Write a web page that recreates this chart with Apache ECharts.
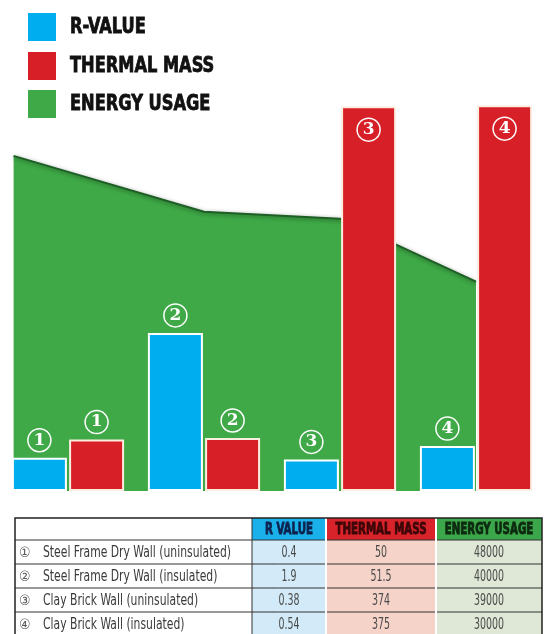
<!DOCTYPE html>
<html>
<head>
<meta charset="utf-8">
<script src="https://cdn.jsdelivr.net/npm/echarts@6/dist/echarts.min.js"></script>
<style>
    html, body { margin: 0; padding: 0; background: #fff; }
    #main { width: 544px; height: 634px; }
</style>
</head>
<body>
<div id="main"></div>
<script>
    // data
    const markers = ['①', '②', '③', '④']
    const wallTypes = [
        'Steel Frame Dry Wall (uninsulated)',
        'Steel Frame Dry Wall (insulated)',
        'Clay Brick Wall (uninsulated)',
        'Clay Brick Wall (insulated)'
    ]
    const rValue = [0.4, 1.9, 0.38, 0.54]
    const thermalMass = [50, 51.5, 374, 375]
    const energyUsage = [48000, 40000, 39000, 30000]
    const seriesNames = ['R-VALUE', 'THERMAL MASS', 'ENERGY USAGE']
    const tableHeaders = ['R VALUE', 'THERMAL MASS', 'ENERGY USAGE']

    const cond = '"DejaVu Sans Condensed", "DejaVu Sans", sans-serif'
    const BLUE = '#00adef'
    const RED = '#d71f27'
    const GREEN = '#3ea946'

    let myChart = echarts.init(document.getElementById('main'))

    // narrow text: condensed font squeezed a bit more
    function squeezed(text, x, y, font, fill, align, sx, heavy) {
        return {
            type: 'text',
            x: x, y: y,
            scaleX: sx,
            style: {
                text: text, x: 0, y: 0,
                align: align, verticalAlign: 'middle',
                font: font, fill: fill,
                stroke: heavy ? fill : null,
                lineWidth: heavy ? 0.8 : 0
            }
        }
    }

    function buildLegend() {
        let colors = [BLUE, RED, GREEN]
        let tops = [13, 52, 90]
        let els = []
        seriesNames.forEach((name, i) => {
            els.push({
                type: 'rect',
                shape: {x: 28, y: tops[i], width: 28, height: 28},
                style: {fill: colors[i]}
            })
            els.push(squeezed(name, 70, tops[i] + 14, 'bold 22px ' + cond, '#111', 'left', 0.82, true))
        })
        return els
    }

    // table below the chart
    function buildTable() {
        let cols = [15, 252, 326, 436, 542]
        let top = 518
        let headH = 22
        let rowH = 24
        let headFill = ['#ffffff', '#1ab0e9', '#d8232a', '#3ba64a']
        let bodyFill = ['#ffffff', '#d3ebf8', '#f5d3c8', '#dfe8d6']
        let headText = ['', '#0d2450', '#3d0608', '#0d2a10']
        let els = []
        let rows = wallTypes.length
        let bottom = top + headH + rows * rowH

        for (let c = 0; c < 4; c++) {
            let x0 = cols[c], w = cols[c + 1] - cols[c]
            els.push({
                type: 'rect',
                shape: {x: x0, y: top, width: w, height: headH},
                style: {fill: headFill[c]}
            })
            for (let r = 0; r < rows; r++) {
                els.push({
                    type: 'rect',
                    shape: {x: x0, y: top + headH + r * rowH, width: w, height: rowH},
                    style: {fill: bodyFill[c]}
                })
            }
            if (c > 0) {
                els.push(squeezed(tableHeaders[c - 1], x0 + w / 2, top + headH / 2 + 1,
                    'bold 15px ' + cond, headText[c], 'center', 0.76, true))
            }
        }

        let cellVals = [rValue, thermalMass, energyUsage]
        for (let r = 0; r < rows; r++) {
            let cy = top + headH + r * rowH + rowH / 2 + 1
            els.push(squeezed(markers[r], 19, cy, '14px ' + cond, '#555', 'left', 1))
            els.push(squeezed(wallTypes[r], 43, cy, '15px ' + cond, '#3a3a3a', 'left', 0.8))
            for (let c = 1; c < 4; c++) {
                els.push(squeezed(String(cellVals[c - 1][r]), (cols[c] + cols[c + 1]) / 2, cy,
                    '15px ' + cond, '#4a4a4a', 'center', 0.7))
            }
        }

        // grid lines
        for (let r = 0; r <= rows; r++) {
            let y = top + headH + r * rowH
            els.push({
                type: 'line',
                shape: {x1: cols[0], y1: y, x2: cols[4], y2: y},
                style: {stroke: '#333', lineWidth: 1}
            })
        }
        for (let c = 2; c < 4; c++) {
            els.push({
                type: 'line',
                shape: {x1: cols[c], y1: top, x2: cols[c], y2: bottom},
                style: {stroke: '#fff', lineWidth: 2}
            })
        }
        els.push({
            type: 'line',
            shape: {x1: cols[1], y1: top, x2: cols[1], y2: bottom},
            style: {stroke: '#333', lineWidth: 1}
        })
        els.push({
            type: 'rect',
            shape: {x: cols[0], y: top, width: cols[4] - cols[0], height: bottom - top},
            style: {fill: 'none', stroke: '#222', lineWidth: 1.5}
        })
        return els
    }

    // circled number above each bar
    function barLabel() {
        return {
            show: true,
            position: 'top',
            distance: 6,
            formatter: p => '{c|' + (p.dataIndex + 1) + '}',
            rich: {
                c: {
                    width: 23,
                    height: 23,
                    borderRadius: 12,
                    borderColor: '#fff',
                    borderWidth: 1.5,
                    align: 'center',
                    verticalAlign: 'middle',
                    color: '#fff',
                    fontSize: 17,
                    fontWeight: 'bold',
                    fontFamily: '"DejaVu Serif", serif',
                    lineHeight: 23
                }
            }
        }
    }

    // tall bars carry their marker inside the top
    function withInside(values) {
        return values.map(v => v > 200
            ? {value: v, label: {position: 'insideTop', distance: 12}}
            : v)
    }

    myChart.setOption({
        animation: false,
        legend: {show: false, data: seriesNames},
        grid: {
            left: 0,
            right: 0,
            top: 100,
            bottom: 143
        },
        xAxis: [
            {type: 'category', data: markers, show: false},
            {type: 'value', min: -0.5, max: 3.5, show: false}
        ],
        yAxis: [
            {type: 'value', min: 0, max: 4.7, show: false},
            {type: 'value', min: 0, max: 380, show: false},
            {type: 'value', min: 0, max: 56000, show: false}
        ],
        series: [
            {
                name: seriesNames[2],
                type: 'line',
                xAxisIndex: 1,
                yAxisIndex: 2,
                z: 1,
                symbol: 'none',
                // first point sits at the left edge of the first group
                data: energyUsage.map((v, i) => [i === 0 ? -0.4 : i, v]),
                itemStyle: {color: GREEN},
                lineStyle: {
                    color: '#1d5f24',
                    width: 2,
                    shadowColor: 'rgba(0,0,0,0.45)',
                    shadowBlur: 4,
                    shadowOffsetY: 1
                },
                areaStyle: {color: GREEN, opacity: 1}
            },
            {
                name: seriesNames[0],
                type: 'bar',
                yAxisIndex: 0,
                z: 3,
                barWidth: 55,
                barGap: '4%',
                data: rValue,
                itemStyle: {color: BLUE, borderColor: '#fff', borderWidth: 2},
                label: barLabel()
            },
            {
                name: seriesNames[1],
                type: 'bar',
                yAxisIndex: 1,
                z: 3,
                barWidth: 55,
                data: withInside(thermalMass),
                itemStyle: {color: RED, borderColor: '#fbeee0', borderWidth: 2},
                label: barLabel()
            }
        ],
        graphic: buildLegend().concat(buildTable())
    })
</script>
</body>
</html>
